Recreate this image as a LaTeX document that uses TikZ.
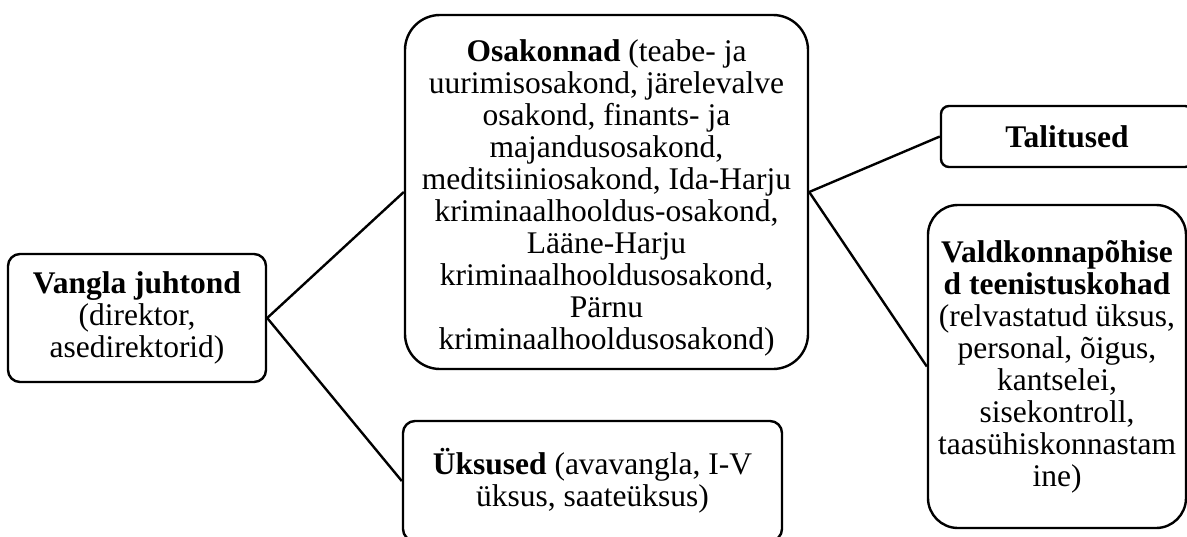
\documentclass[tikz,border=0pt]{standalone}
\usepackage{fontspec}
\setmainfont{Liberation Serif}
\begin{document}
\begin{tikzpicture}[x=1pt,y=-1pt,
  box/.style={draw, line width=2.4pt, align=center, inner sep=0pt, font=\fontsize{31.5}{32}\selectfont},
  link/.style={line width=2.4pt}]
\useasboundingbox (0,0) rectangle (1187,536);
\node[box, rounded corners=12pt, minimum width=258pt, minimum height=128pt] (vangla) at (137,318)
  {\textbf{Vangla juhtond}\\(direktor,\\asedirektorid)};
\node[box, rounded corners=35pt, minimum width=403pt, minimum height=354pt] (osak) at (606.5,192)
  {\rule{0pt}{34pt}\textbf{Osakonnad} (teabe- ja\\uurimisosakond, järelevalve\\osakond, finants- ja\\majandusosakond,\\meditsiiniosakond, Ida-Harju\\kriminaalhooldus-osakond,\\Lääne-Harju\\kriminaalhooldusosakond,\\Pärnu\\kriminaalhooldusosakond)};
\node[box, rounded corners=12pt, minimum width=379pt, minimum height=120pt] (yks) at (592.5,481)
  {\textbf{Üksused} (avavangla, I-V\\üksus, saateüksus)};
\node[box, rounded corners=8pt, minimum width=252pt, minimum height=61pt] (tal) at (1067,136.5)
  {\textbf{Talitused}};
\node[box, rounded corners=30pt, minimum width=258pt, minimum height=323pt] (vald) at (1057,366.5)
  {\textbf{Valdkonnapõhise}\\\textbf{d teenistuskohad}\\(relvastatud üksus,\\personal, õigus,\\kantselei,\\sisekontroll,\\taasühiskonnastam\\ine)};
\draw[link] (vangla.east) -- (osak.west);
\draw[link] (vangla.east) -- (yks.west);
\draw[link] (osak.east) -- (tal.west);
\draw[link] (osak.east) -- (vald.west);
\end{tikzpicture}
\end{document}
